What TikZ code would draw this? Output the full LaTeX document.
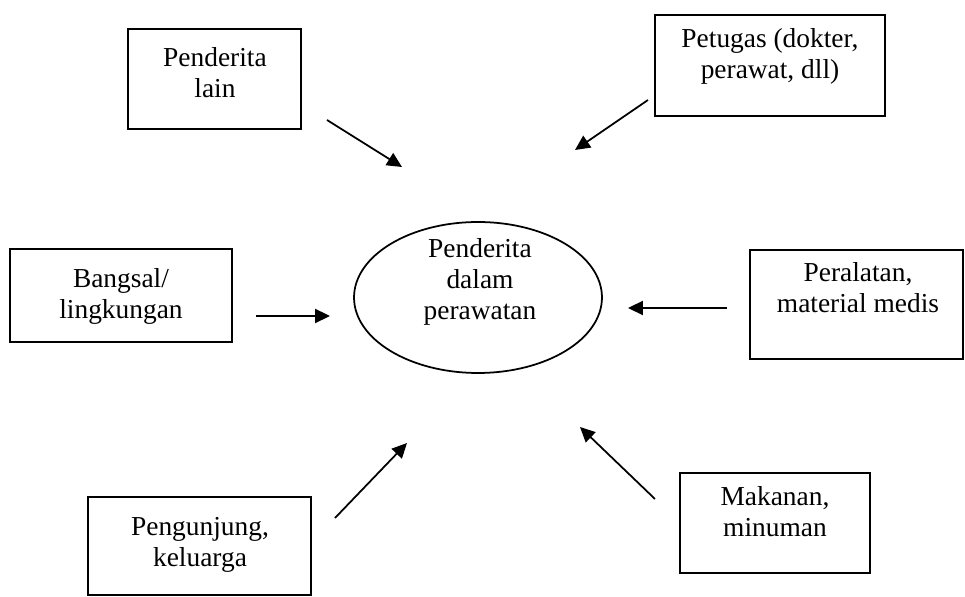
\documentclass[tikz,border=0pt]{standalone}
\usepackage{fontspec}
\setmainfont{Liberation Serif}
\usetikzlibrary{shapes.geometric,arrows.meta}

\begin{document}
\begin{tikzpicture}[
          x=0.02cm, y=-0.02cm,
          every node/.style={align=center, font=\fontsize{15.6}{17.6}\selectfont},
          box/.style={draw, line width=1.2pt, inner sep=0pt},
          txt/.style={inner sep=0pt},
          hub/.style={draw, ellipse, line width=1pt, inner sep=0pt,
                      minimum width=4.96cm, minimum height=3.02cm},
          arr/.style={line width=1pt, -{Triangle[length=8.5pt,width=8pt]}}
        ]
        \useasboundingbox (0,0) rectangle (965,597);

        % Centre
        \node[hub] (pasien) at (478,297.5) {};
        \node[txt] (pasien-t) at (480,282) {Penderita\\dalam\\perawatan};

        % Top row
        \node[box, minimum width=3.46cm, minimum height=2.0cm] (lain) at (214.5,79) {};
        \node[txt] (lain-t) at (215,73) {Penderita\\lain};
        \node[box, minimum width=4.6cm, minimum height=2.02cm] (petugas) at (770,65.5) {};
        \node[txt] (petugas-t) at (770,56.5) {Petugas (dokter,\\perawat, dll)};

        % Middle row
        \node[box, minimum width=4.44cm, minimum height=1.86cm] (bangsal) at (121,295.5) {};
        \node[txt] (bangsal-t) at (121,296) {Bangsal/\\lingkungan};
        \node[box, minimum width=4.26cm, minimum height=2.18cm] (alat) at (856.5,304.5) {};
        \node[txt] (alat-t) at (858,288) {Peralatan,\\material medis};

        % Bottom row
        \node[box, minimum width=4.46cm, minimum height=1.96cm] (tamu) at (199.5,546) {};
        \node[txt] (tamu-t) at (200,544.5) {Pengunjung,\\keluarga};
        \node[box, minimum width=3.8cm, minimum height=2.0cm] (makan) at (775,523) {};
        \node[txt] (makan-t) at (775,512) {Makanan,\\minuman};

        % Arrow ends
        \coordinate (lain-a) at (327,120);    \coordinate (lain-b) at (402,167);
        \coordinate (petugas-a) at (648,100); \coordinate (petugas-b) at (575,150);
        \coordinate (bangsal-a) at (256,316); \coordinate (bangsal-b) at (330,316);
        \coordinate (alat-a) at (727,308);    \coordinate (alat-b) at (628,308);
        \coordinate (tamu-a) at (335,518);    \coordinate (tamu-b) at (407,443);
        \coordinate (makan-a) at (655,499);   \coordinate (makan-b) at (580,427);

        % Arrows
        \draw[arr] (lain-a) -- (lain-b);
        \draw[arr] (petugas-a) -- (petugas-b);
        \draw[arr] (bangsal-a) -- (bangsal-b);
        \draw[arr] (alat-a) -- (alat-b);
        \draw[arr] (tamu-a) -- (tamu-b);
        \draw[arr] (makan-a) -- (makan-b);

      \end{tikzpicture}
\end{document}
